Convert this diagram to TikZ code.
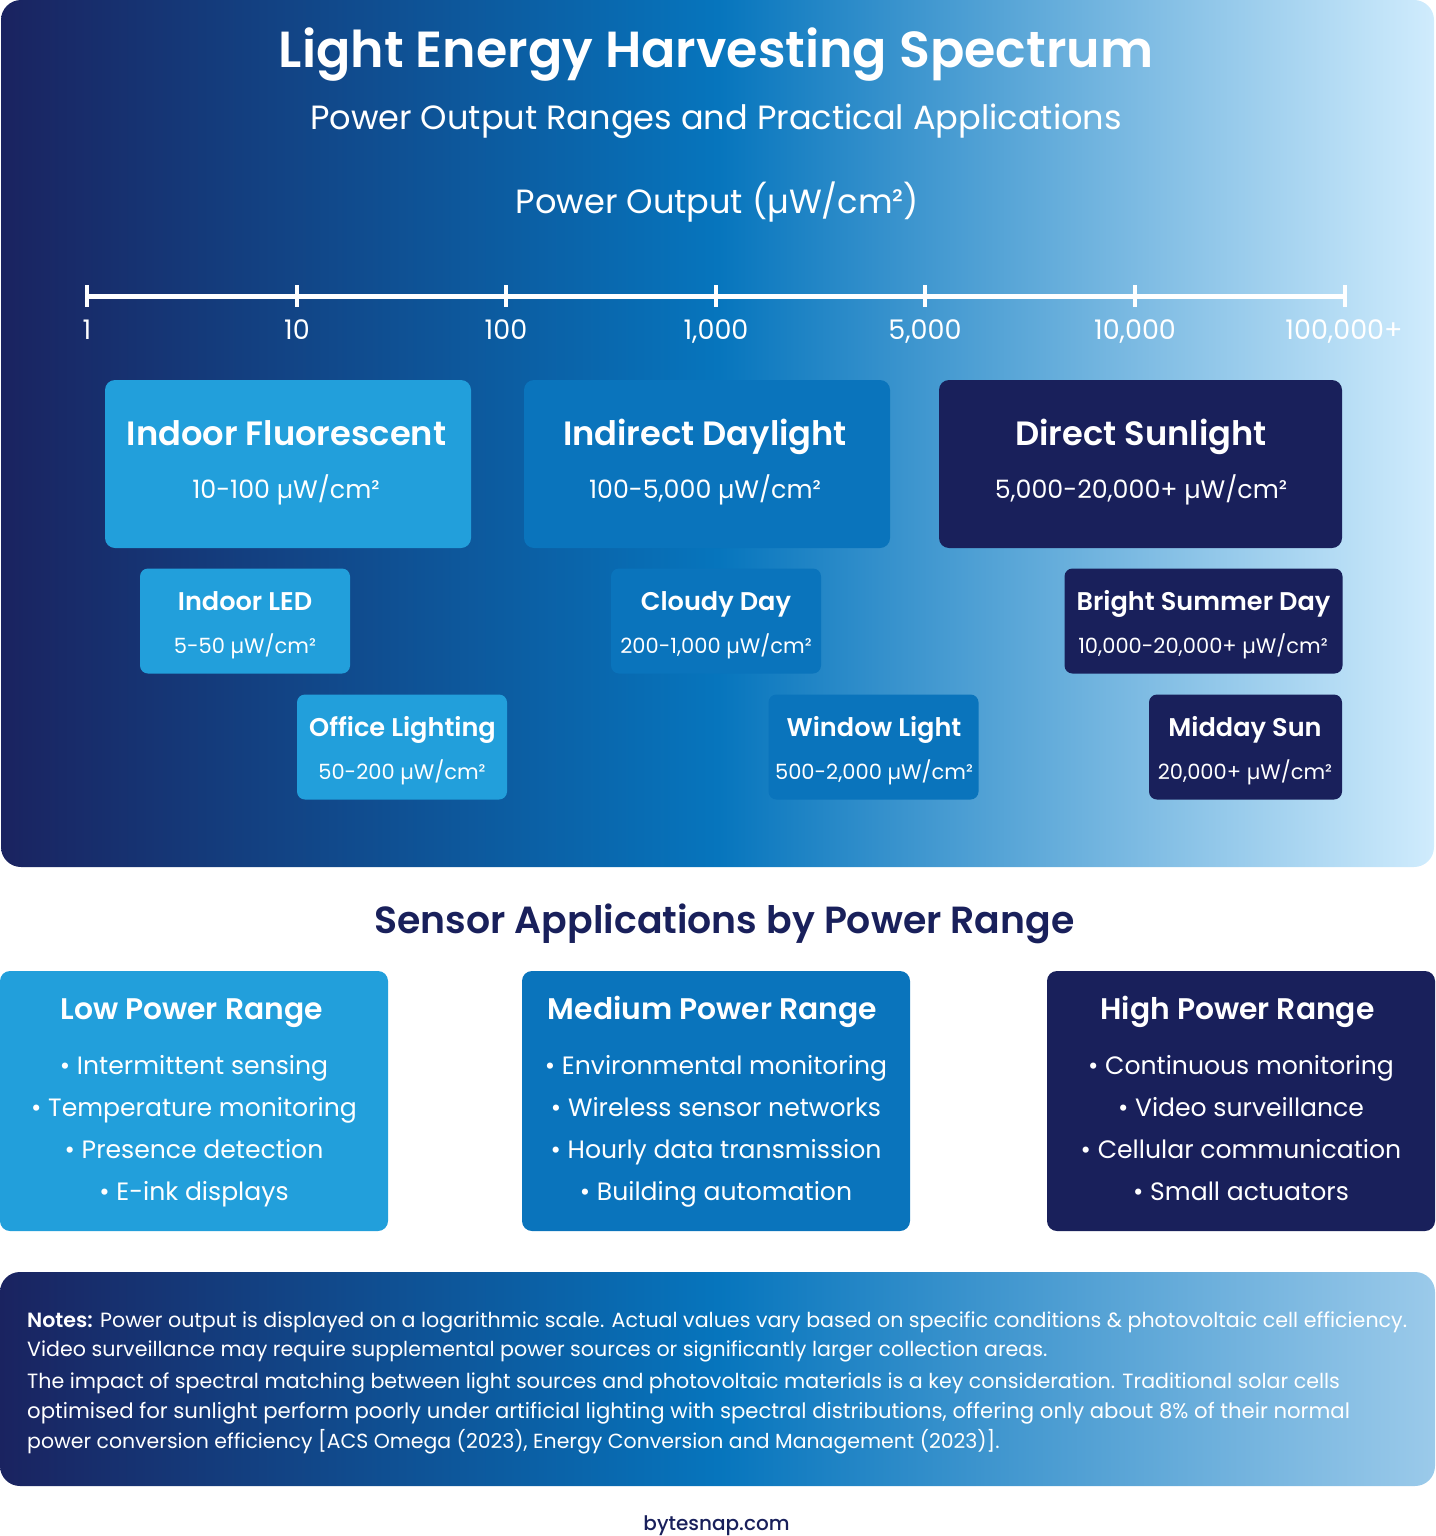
\documentclass[tikz,border=0pt]{standalone}
\usepackage{fontspec}
\setmainfont{Poppins}
\newfontfamily\semifont{Poppins SemiBold}
\newfontfamily\medfont{Poppins Medium}
\usepackage{tikz}

% Colours
\definecolor{navy}{HTML}{19205B}
\definecolor{midblue}{HTML}{0A74BC}
\definecolor{skyblue}{HTML}{229FDB}
\definecolor{gradA}{HTML}{1A2360}
\definecolor{gradC}{HTML}{0675BD}
\definecolor{gradE}{HTML}{9BCAEA}
\definecolor{gradF}{HTML}{D0ECFD}

% Gradients: the visible part runs from 25bp to 75bp
\pgfdeclarehorizontalshading{panelgrad}{100bp}{color(0bp)=(gradA); color(25bp)=(gradA); color(50bp)=(gradC); color(75bp)=(gradF); color(100bp)=(gradF)}
\pgfdeclarehorizontalshading{notesgrad}{100bp}{color(0bp)=(gradA); color(25bp)=(gradA); color(50bp)=(gradC); color(75bp)=(gradE); color(100bp)=(gradE)}

\tikzset{
  bigbox/.style={rounded corners=10pt, inner sep=0pt, minimum width=366pt, minimum height=168pt},
  smallbox/.style={rounded corners=8pt, inner sep=0pt, minimum width=210pt, minimum height=105pt},
  card/.style={rounded corners=10pt, inner sep=0pt, minimum width=388pt, minimum height=260pt},
  txt/.style={text=white, anchor=base, inner sep=0pt},
  ticklabel/.style={txt, font=\fontsize{27}{27}\selectfont},
  bigtitle/.style={txt, font=\semifont\fontsize{33.7}{33.7}\selectfont},
  bigsub/.style={txt, font=\fontsize{25.3}{25.3}\selectfont},
  smalltitle/.style={txt, font=\semifont\fontsize{25.6}{25.6}\selectfont},
  smallsub/.style={txt, font=\fontsize{21}{21}\selectfont},
  cardtitle/.style={txt, font=\semifont\fontsize{29.8}{29.8}\selectfont},
  cardline/.style={txt, font=\fontsize{25.1}{25.1}\selectfont},
  noteline/.style={txt, anchor=base west, font=\fontsize{20.6}{20.6}\selectfont},
  axisline/.style={draw=white, line width=5pt},
  axistick/.style={draw=white, line width=4pt}
}

\begin{document}
\begin{tikzpicture}[x=1pt, y=-1pt]
\useasboundingbox (0,0) rectangle (1435,1536);

% Top panel and notes panel
\shade[shading=panelgrad, rounded corners=20pt] (1,0) rectangle (1434,867);
\shade[shading=notesgrad, rounded corners=20pt] (0,1272) rectangle (1435,1486);

% Headings
\node[txt, font=\semifont\fontsize{50.7}{50.7}\selectfont] (title) at (716,68) {Light Energy Harvesting Spectrum};
\node[txt, font=\fontsize{33.6}{33.6}\selectfont] (subtitle) at (716,129) {Power Output Ranges and Practical Applications};
\node[txt, font=\fontsize{33.6}{33.6}\selectfont] (axistitle) at (717.5,213) {Power Output (µW/cm²)};

% Scale
\coordinate (t1) at (87,296);
\coordinate (t2) at (297,296);
\coordinate (t3) at (506,296);
\coordinate (t4) at (716,296);
\coordinate (t5) at (925,296);
\coordinate (t6) at (1135,296);
\coordinate (t7) at (1345,296);
\draw[axisline] (t1) -- (t7);
\draw[axistick] ([yshift=11pt]t1) -- ([yshift=-11pt]t1);
\draw[axistick] ([yshift=11pt]t2) -- ([yshift=-11pt]t2);
\draw[axistick] ([yshift=11pt]t3) -- ([yshift=-11pt]t3);
\draw[axistick] ([yshift=11pt]t4) -- ([yshift=-11pt]t4);
\draw[axistick] ([yshift=11pt]t5) -- ([yshift=-11pt]t5);
\draw[axistick] ([yshift=11pt]t6) -- ([yshift=-11pt]t6);
\draw[axistick] ([yshift=11pt]t7) -- ([yshift=-11pt]t7);
\node[ticklabel] (l1) at (87,339) {1};
\node[ticklabel] (l2) at (297,339) {10};
\node[ticklabel] (l3) at (506,339) {100};
\node[ticklabel] (l4) at (716,339) {1,000};
\node[ticklabel] (l5) at (925,339) {5,000};
\node[ticklabel] (l6) at (1135,339) {10,000};
\node[ticklabel] (l7) at (1344,339) {100,000+};

% Large light sources
\node[bigbox, fill=skyblue] (fluor) at (288,464) {};
\node[bigtitle] (fluorT) at (286.5,445) {Indoor Fluorescent};
\node[bigsub] (fluorS) at (286,498) {10-100 µW/cm²};
\node[bigbox, fill=midblue] (indirect) at (707,464) {};
\node[bigtitle] (indirectT) at (705,445) {Indirect Daylight};
\node[bigsub] (indirectS) at (705,498) {100-5,000 µW/cm²};
\node[bigbox, fill=navy, minimum width=403pt] (direct) at (1140.5,464) {};
\node[bigtitle] (directT) at (1141,445) {Direct Sunlight};
\node[bigsub] (directS) at (1141,498) {5,000-20,000+ µW/cm²};

% Smaller light sources
\node[smallbox, fill=skyblue] (led) at (245,621) {};
\node[smalltitle] (ledT) at (245,610) {Indoor LED};
\node[smallsub] (ledS) at (245,653) {5-50 µW/cm²};
\node[smallbox, fill=midblue] (cloudy) at (716,621) {};
\node[smalltitle] (cloudyT) at (716,610) {Cloudy Day};
\node[smallsub] (cloudyS) at (716,653) {200-1,000 µW/cm²};
\node[smallbox, fill=navy, minimum width=278pt] (summer) at (1203.5,621) {};
\node[smalltitle] (summerT) at (1203.5,610) {Bright Summer Day};
\node[smallsub] (summerS) at (1203,653) {10,000-20,000+ µW/cm²};
\node[smallbox, fill=skyblue] (office) at (402,747) {};
\node[smalltitle] (officeT) at (402.5,736) {Office Lighting};
\node[smallsub] (officeS) at (402,779) {50-200 µW/cm²};
\node[smallbox, fill=midblue] (window) at (873.5,747) {};
\node[smalltitle] (windowT) at (874,736) {Window Light};
\node[smallsub] (windowS) at (874,779) {500-2,000 µW/cm²};
\node[smallbox, fill=navy, minimum width=193pt] (midday) at (1245.5,747) {};
\node[smalltitle] (middayT) at (1245,736) {Midday Sun};
\node[smallsub] (middayS) at (1245,779) {20,000+ µW/cm²};

% Applications
\node[txt, text=navy, font=\semifont\fontsize{37.8}{37.8}\selectfont] (apps) at (724.5,933) {Sensor Applications by Power Range};

\node[card, fill=skyblue] (low) at (194,1101) {};
\node[cardtitle] (lowT) at (191.5,1019) {Low Power Range};
\node[cardline] (low1) at (194,1074) {• Intermittent sensing};
\node[cardline] (low2) at (194,1116) {• Temperature monitoring};
\node[cardline] (low3) at (194,1158) {• Presence detection};
\node[cardline] (low4) at (194,1200) {• E-ink displays};

\node[card, fill=midblue] (medium) at (716,1101) {};
\node[cardtitle] (mediumT) at (712.5,1019) {Medium Power Range};
\node[cardline] (medium1) at (716,1074) {• Environmental monitoring};
\node[cardline] (medium2) at (716,1116) {• Wireless sensor networks};
\node[cardline] (medium3) at (716,1158) {• Hourly data transmission};
\node[cardline] (medium4) at (716,1200) {• Building automation};

\node[card, fill=navy] (high) at (1241,1101) {};
\node[cardtitle] (highT) at (1237.5,1019) {High Power Range};
\node[cardline] (high1) at (1241,1074) {• Continuous monitoring};
\node[cardline] (high2) at (1241,1116) {• Video surveillance};
\node[cardline] (high3) at (1241,1158) {• Cellular communication};
\node[cardline] (high4) at (1241,1200) {• Small actuators};

% Notes
\node[noteline] (n1) at (27,1327) {{\semifont Notes:} Power output is displayed on a logarithmic scale. Actual values vary based on specific conditions \& photovoltaic cell efficiency.};
\node[noteline] (n2) at (27,1356) {Video surveillance may require supplemental power sources or significantly larger collection areas.};
\node[noteline] (n3) at (27,1388) {The impact of spectral matching between light sources and photovoltaic materials is a key consideration. Traditional solar cells};
\node[noteline, font=\fontsize{21.2}{21.2}\selectfont] (n4) at (27,1418.5) {optimised for sunlight perform poorly under artificial lighting with spectral distributions, offering only about 8\% of their normal};
\node[noteline, font=\fontsize{20.45}{20.45}\selectfont] (n5) at (27,1448.5) {power conversion efficiency [ACS Omega (2023), Energy Conversion and Management (2023)].};

\node[txt, text=navy, font=\medfont\fontsize{20}{20}\selectfont] (site) at (716.5,1530) {bytesnap.com};
\end{tikzpicture}
\end{document}
